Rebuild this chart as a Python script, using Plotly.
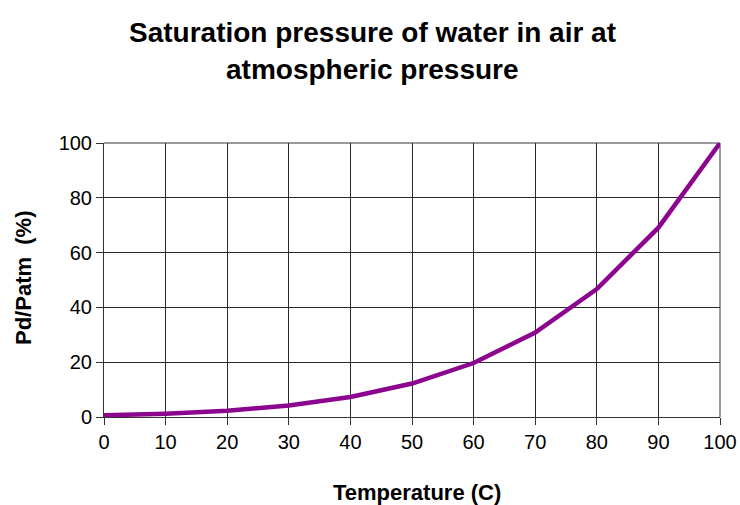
import plotly.graph_objects as go

temperature = [0, 10, 20, 30, 40, 50, 60, 70, 80, 90, 100]
pd_patm = [0.6, 1.2, 2.3, 4.2, 7.3, 12.2, 19.7, 30.8, 46.7, 69.1, 100.0]

x_ticks = [0, 10, 20, 30, 40, 50, 60, 70, 80, 90, 100]
y_ticks = [0, 20, 40, 60, 80, 100]

title_lines = ["Saturation pressure of water in air at", "atmospheric pressure"]
x_title = "Temperature (C)"
y_title = "Pd/Patm  (%)"

font_family = "Liberation Sans, Arial, sans-serif"

W, H = 740, 505
L, R, T, B = 104, 20, 143, 88
PW, PH = W - L - R, H - T - B


def px_to_paper(px, py):
    return (px - L) / PW, (H - B - py) / PH


fig = go.Figure()
fig.add_trace(go.Scatter(
    x=temperature, y=pd_patm, mode="lines",
    line=dict(color="#8B058F", width=4.5),
    showlegend=False, cliponaxis=False, hoverinfo="skip",
))

annotations = []
for i, (line, cy) in enumerate(zip(title_lines, [32, 70])):
    ax, ay = px_to_paper(372, cy)
    annotations.append(dict(
        text="<b>" + line + "</b>", x=ax, y=ay, xref="paper", yref="paper",
        xanchor="center", yanchor="middle", showarrow=False,
        font=dict(family=font_family, size=28, color="#000000"),
    ))

ax, ay = px_to_paper(417, 492)
annotations.append(dict(
    text="<b>" + x_title + "</b>", x=ax, y=ay, xref="paper", yref="paper",
    xanchor="center", yanchor="middle", showarrow=False,
    font=dict(family=font_family, size=22, color="#000000"),
))
ax, ay = px_to_paper(23, 278)
annotations.append(dict(
    text="<b>" + y_title + "</b>", x=ax, y=ay, xref="paper", yref="paper",
    xanchor="center", yanchor="middle", showarrow=False, textangle=-90,
    font=dict(family=font_family, size=22, color="#000000"),
))

shapes = [
    dict(type="line", xref="paper", yref="paper", x0=0, x1=1, y0=1, y1=1,
         line=dict(color="#9a9a9a", width=2), layer="below"),
    dict(type="line", xref="paper", yref="paper", x0=1, x1=1, y0=0, y1=1,
         line=dict(color="#9a9a9a", width=2), layer="below"),
]

fig.update_layout(
    width=W, height=H,
    margin=dict(l=L, r=R, t=T, b=B, autoexpand=False),
    paper_bgcolor="white", plot_bgcolor="white",
    font=dict(family=font_family, size=20, color="#000000"),
    annotations=annotations,
    shapes=shapes,
    hovermode=False,
    xaxis=dict(
        range=[0, 100], tickvals=x_ticks, ticks="outside", ticklen=7,
        tickcolor="#333333", showgrid=True, gridcolor="#2a2a2a", gridwidth=1,
        showline=True, linecolor="#333333", linewidth=1, zeroline=False,
        automargin=False, tickfont=dict(size=20), layer="below traces",
    ),
    yaxis=dict(
        range=[0, 100], tickvals=y_ticks, ticks="outside", ticklen=7,
        tickcolor="#333333", showgrid=True, gridcolor="#2a2a2a", gridwidth=1,
        showline=True, linecolor="#333333", linewidth=1, zeroline=False,
        automargin=False, tickfont=dict(size=20), layer="below traces",
    ),
)

fig.write_html(
    "out.html",
    config={"displayModeBar": False},
    post_script="document.body.style.margin='0';document.body.style.padding='0';",
)
